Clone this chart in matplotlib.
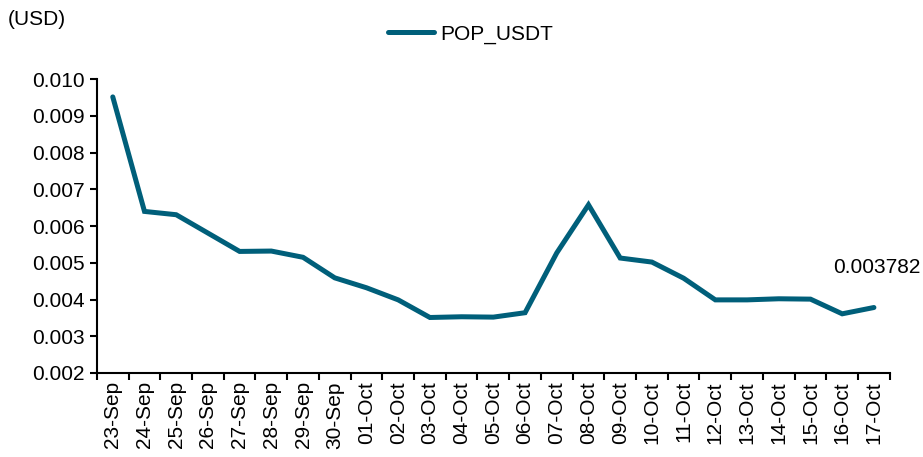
import matplotlib.pyplot as plt
import numpy as np
from matplotlib.ticker import FixedLocator, FormatStrFormatter

plt.rcParams["font.family"] = ["Liberation Sans", "DejaVu Sans"]

# ---------------------------------------------------------------------------
# Data
# ---------------------------------------------------------------------------
dates = ["23-Sep", "24-Sep", "25-Sep", "26-Sep", "27-Sep", "28-Sep", "29-Sep",
         "30-Sep", "01-Oct", "02-Oct", "03-Oct", "04-Oct", "05-Oct", "06-Oct",
         "07-Oct", "08-Oct", "09-Oct", "10-Oct", "11-Oct", "12-Oct", "13-Oct",
         "14-Oct", "15-Oct", "16-Oct", "17-Oct"]
pop_usdt = [0.00952, 0.00640, 0.00631, 0.00581, 0.00531, 0.00532, 0.00515,
            0.00459, 0.00432, 0.00399, 0.00351, 0.00353, 0.00352, 0.00364,
            0.00527, 0.00658, 0.00513, 0.00502, 0.00458, 0.00399, 0.00399,
            0.00402, 0.00401, 0.00361, 0.003782]
y_ticks = [0.002, 0.003, 0.004, 0.005, 0.006, 0.007, 0.008, 0.009, 0.010]

color = "#005F7A"
fs = 15

fig = plt.figure(figsize=(9.23, 4.57), dpi=100)
ax = fig.add_axes([0.105, 0.184, 0.859, 0.6425])

x = np.arange(len(dates))
ax.plot(x, pop_usdt, color=color, linewidth=3.6, label="POP_USDT",
        solid_joinstyle="miter", solid_capstyle="round")

ax.set_xlim(-0.5, len(dates) - 0.5)
ax.set_ylim(y_ticks[0], y_ticks[-1])
ax.yaxis.set_major_locator(FixedLocator(y_ticks))
ax.yaxis.set_major_formatter(FormatStrFormatter("%.3f"))

ax.set_xticks(x)
ax.set_xticklabels(dates, rotation=90)
ax.xaxis.set_minor_locator(FixedLocator(np.arange(-0.5, len(dates), 1.0)))
ax.tick_params(axis="x", which="major", length=0, pad=6, labelsize=fs)
ax.tick_params(axis="x", which="minor", length=5, width=1.5, direction="out")
ax.tick_params(axis="y", length=5, width=1.5, labelsize=fs, pad=4)

for side in ("top", "right"):
    ax.spines[side].set_visible(False)
for side in ("left", "bottom"):
    ax.spines[side].set_linewidth(1.5)

# last value label
ax.annotate(f"{pop_usdt[-1]:.6f}", xy=(x[-1], pop_usdt[-1]),
            xytext=(2, 22), textcoords="offset points",
            ha="center", va="bottom", fontsize=fs)

fig.text(0.008, 0.958, "(USD)", fontsize=fs, ha="left", va="center")
fig.legend(loc="center", bbox_to_anchor=(0.51, 0.925), frameon=False,
           fontsize=fs, handlelength=2.2, handletextpad=0.3)

fig.savefig("out.png", dpi=100)
